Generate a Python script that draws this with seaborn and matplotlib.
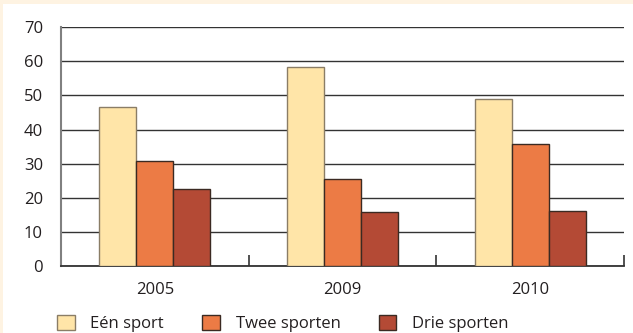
import pandas as pd
import seaborn as sns
import matplotlib.pyplot as plt
from matplotlib.patches import Rectangle, Patch

# Data
years = ['2005', '2009', '2010']
series = ['Eén sport', 'Twee sporten', 'Drie sporten']
een_sport = [46.6, 58.4, 48.8]
twee_sporten = [30.7, 25.6, 35.7]
drie_sporten = [22.7, 16.0, 16.2]
y_ticks = [0, 10, 20, 30, 40, 50, 60, 70]

colors = ['#FFE5A8', '#EC7B45', '#B44A35']
edges = ['#8a7d66', '#3b2a22', '#3b2a22']

df = pd.DataFrame({
    'year': years * 3,
    'sport': [series[0]] * 3 + [series[1]] * 3 + [series[2]] * 3,
    'value': een_sport + twee_sporten + drie_sporten,
})

sns.set_style('white')
plt.rcParams['font.family'] = ['Open Sans', 'DejaVu Sans']
plt.rcParams['font.size'] = 12

W, H = 633, 333
fig = plt.figure(figsize=(W / 100, H / 100), dpi=100, facecolor='#FEF3E2')
# white panel inside the cream frame
fig.patches.append(Rectangle((3 / W, 0), 1, 1 - 4 / H, transform=fig.transFigure,
                             facecolor='white', edgecolor='none', zorder=-5))

ax = fig.add_axes([61 / W, (H - 266.3) / H, (624 - 61) / W, (266.3 - 27) / H])
ax.set_facecolor('none')

sns.barplot(data=df, x='year', y='value', hue='sport', order=years, hue_order=series,
            palette=colors, saturation=1, width=0.59, gap=0, legend=False, ax=ax, zorder=3)

# edge colours per series
for bars, ec in zip(ax.containers, edges):
    for b in bars:
        b.set_edgecolor(ec)
        b.set_linewidth(1.0)

ax.set_ylim(0, 70)
ax.set_xlim(-0.5, 2.5)
ax.set_yticks(y_ticks)
ax.yaxis.grid(True, color='#333333', linewidth=1.0, zorder=1)
ax.set_axisbelow(True)
ax.set_xlabel('')
ax.set_ylabel('')

ax.tick_params(axis='y', length=0, pad=13, labelcolor='#231f20')
ax.tick_params(axis='x', which='major', length=0, pad=11, labelcolor='#231f20')
ax.set_xticks([0.5, 1.5, 2.5], minor=True)
ax.tick_params(axis='x', which='minor', direction='in', length=8, width=1.2,
               color='#333333', bottom=True)

for s in ['top', 'right']:
    ax.spines[s].set_visible(False)
ax.spines['left'].set_color('#808080')
ax.spines['left'].set_linewidth(1.5)
ax.spines['bottom'].set_color('#333333')
ax.spines['bottom'].set_linewidth(1.3)

handles = [Patch(facecolor=c, edgecolor=e, linewidth=1.0) for c, e in zip(colors, edges)]
fig.legend(handles, series, loc='upper left', bbox_to_anchor=(57 / W, (H - 314.5) / H),
           ncol=3, frameon=False, borderpad=0, borderaxespad=0,
           handlelength=1.05, handleheight=1.05, handletextpad=0.95,
           columnspacing=2.3, labelcolor='#231f20')

plt.savefig('out.png', dpi=100, facecolor=fig.get_facecolor())
